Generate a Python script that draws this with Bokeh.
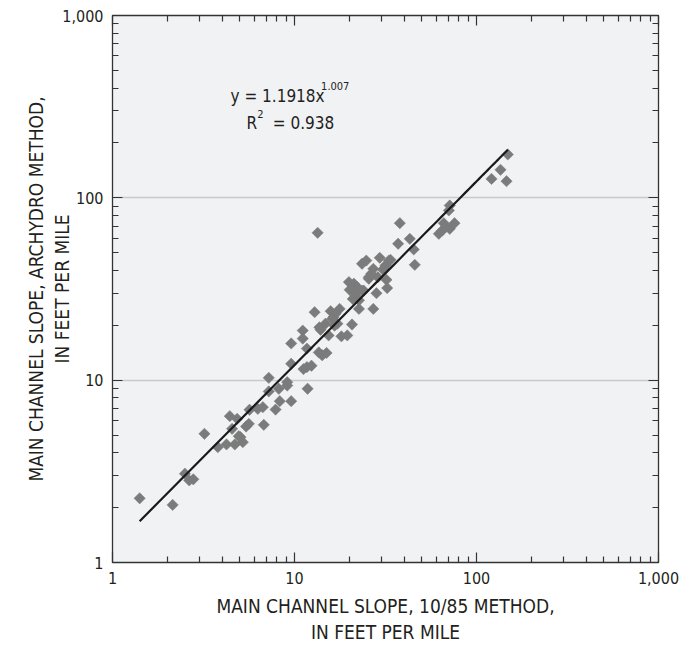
import numpy as np
from bokeh.plotting import figure
from bokeh.models import (LogAxis, NumeralTickFormatter, FixedTicker, Label,
                          ColumnDataSource, Range1d)
from bokeh.embed import file_html
from bokeh.resources import INLINE

# Main channel slope, 10/85 method (ft/mi)
slope_1085 = [
    1.41, 2.14, 2.50, 2.64, 2.78, 3.20, 3.79, 4.23, 4.41, 4.70, 4.54, 4.84,
    5.05, 5.20, 5.42, 5.61, 5.66, 6.29, 6.70, 6.78, 7.22, 7.87, 8.20, 8.30,
    9.12, 9.59, 11.8, 7.22, 9.12, 9.59, 9.59, 11.1, 11.1, 11.7, 11.2, 11.7,
    12.4, 12.9, 13.7, 13.6, 14.2, 15.0, 15.4, 15.8, 16.4, 17.2, 17.7, 18.1,
    19.5, 20.7, 19.9, 21.2, 21.6, 20.9, 22.6, 24.0, 23.5, 24.8, 25.6, 27.1,
    27.1, 28.2, 29.4, 30.7, 31.6, 32.0, 32.3, 33.7, 37.1, 37.9, 43.0, 45.2,
    45.8, 71.3, 70.5, 66.1, 75.7, 62.1, 64.8, 67.6, 71.3, 148.6, 135.5, 120.9,
    146.2, 13.4, 13.9, 4.94, 16.8, 16.1, 16.6, 33.0, 30.9, 25.6, 26.4, 28.7,
    21.2, 22.1, 20.1, 21.6, 23.5, 22.6, 14.8,
]
# Main channel slope, ArcHydro method (ft/mi)
slope_archydro = [
    2.25, 2.07, 3.07, 2.82, 2.86, 5.08, 4.29, 4.44, 6.35, 4.44, 5.41, 6.14,
    4.87, 4.57, 5.57, 5.76, 6.88, 6.96, 7.11, 5.69, 8.67, 6.90, 8.97, 7.67,
    9.35, 7.67, 8.97, 10.3, 9.75, 15.9, 12.3, 18.7, 16.9, 14.9, 11.5, 11.8,
    12.0, 23.6, 19.5, 14.2, 13.7, 14.1, 17.6, 23.9, 22.2, 20.4, 24.6, 17.4,
    17.6, 20.2, 34.5, 32.4, 29.1, 27.9, 24.6, 31.0, 43.5, 45.3, 36.0, 40.8,
    24.6, 30.0, 46.9, 40.3, 42.6, 35.5, 32.0, 45.7, 56.0, 72.6, 59.6, 52.1,
    42.9, 90.8, 85.3, 72.6, 72.6, 63.5, 66.2, 69.0, 67.6, 173.0, 142.5, 127.0,
    123.4, 64.3, 18.9, 4.93, 23.1, 21.7, 19.9, 45.3, 40.8, 36.7, 38.3, 36.7,
    33.8, 32.4, 31.3, 30.4, 31.0, 27.4, 20.4,
]

fit_coef = 1.1918
fit_exp = 1.007
r_squared = 0.938

axis_ticks = [1, 10, 100, 1000]
grid_ticks = [10, 100]
minor = [m * d for d in [1, 10, 100] for m in range(2, 10)]

FONT = "DejaVu Sans Condensed, Liberation Sans, sans-serif"
TXT = "#231f20"

p = figure(width=680, height=645, x_axis_type="log", y_axis_type="log",
           x_range=Range1d(1, 1000), y_range=Range1d(1, 1000),
           output_backend="svg", toolbar_location=None,
           min_border_left=112, min_border_right=22, min_border_top=15,
           min_border_bottom=83)

p.background_fill_color = "#f1f2f4"
p.border_fill_color = "white"
p.outline_line_color = "#333333"
p.outline_line_width = 1.3

p.xgrid.visible = False
p.ygrid.ticker = FixedTicker(ticks=grid_ticks)
p.ygrid.grid_line_color = "#c9c9c9"
p.ygrid.grid_line_width = 1.5


def style_ticks(ax):
    ax.ticker = FixedTicker(ticks=axis_ticks, minor_ticks=minor)
    ax.major_tick_in = 10
    ax.major_tick_out = 0
    ax.minor_tick_in = 6
    ax.minor_tick_out = 0
    ax.axis_line_color = "#333333"
    ax.major_tick_line_color = "#333333"
    ax.minor_tick_line_color = "#333333"
    ax.major_tick_line_width = 1.2
    ax.minor_tick_line_width = 1.2


for ax in (p.xaxis[0], p.yaxis[0]):
    style_ticks(ax)
    ax.formatter = NumeralTickFormatter(format="0,0")
    ax.major_label_text_font = FONT
    ax.major_label_text_font_size = "16px"
    ax.major_label_text_color = TXT
    ax.axis_label_text_font = FONT
    ax.axis_label_text_font_size = "19px"
    ax.axis_label_text_font_style = "normal"
    ax.axis_label_text_color = TXT

p.xaxis[0].major_label_standoff = 9
p.yaxis[0].major_label_standoff = 9
p.xaxis[0].axis_label = "MAIN CHANNEL SLOPE, 10/85 METHOD,\nIN FEET PER MILE"
p.yaxis[0].axis_label = "MAIN CHANNEL SLOPE, ARCHYDRO METHOD,\nIN FEET PER MILE"
p.xaxis[0].axis_label_standoff = 8
p.yaxis[0].axis_label_standoff = -14

for loc in ("above", "right"):
    ax = LogAxis()
    style_ticks(ax)
    ax.major_label_text_font_size = "1px"
    ax.major_label_text_alpha = 0
    ax.major_label_standoff = 0
    p.add_layout(ax, loc)

src = ColumnDataSource(dict(x=slope_1085, y=slope_archydro))
p.scatter("x", "y", source=src, marker="square", size=8, angle=np.pi / 4,
          fill_color="#7b7b7b", line_color="#7b7b7b", line_width=0.5)

xs = np.linspace(min(slope_1085), max(slope_1085), 50)
p.line(xs, fit_coef * xs ** fit_exp, line_color="#1a1a1a", line_width=2.2)


def lab(x, y, text, size):
    p.add_layout(Label(x=x, y=y, text=text, text_font=FONT,
                       text_font_size=size, text_color=TXT,
                       text_baseline="middle", text_align="left"))


lab(4.45, 364, "y = %.4fx" % fit_coef, "17px")
lab(14.0, 408, "%.3f" % fit_exp, "11px")
lab(5.45, 256, "R", "17px")
lab(6.25, 290, "2", "11px")
lab(7.6, 256, "= %.3f" % r_squared, "17px")

open("out.html", "w").write(file_html(p, INLINE))
